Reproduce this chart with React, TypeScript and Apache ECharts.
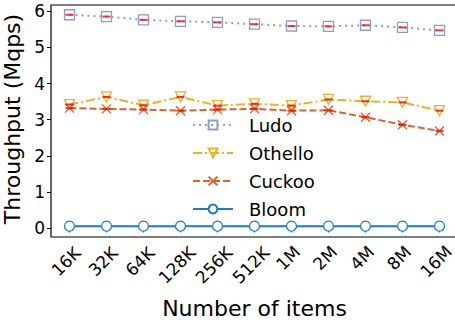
import React, { useEffect, useRef } from 'react';
import * as echarts from 'echarts';

const categories = ['16K', '32K', '64K', '128K', '256K', '512K', '1M', '2M', '4M', '8M', '16M'];
const ludo = [5.9, 5.85, 5.76, 5.72, 5.69, 5.64, 5.59, 5.58, 5.61, 5.55, 5.47];
const othello = [3.42, 3.63, 3.4, 3.63, 3.39, 3.44, 3.39, 3.56, 3.51, 3.48, 3.25];
const cuckoo = [3.32, 3.3, 3.28, 3.25, 3.28, 3.3, 3.25, 3.26, 3.07, 2.86, 2.69];
const bloom = [0.06, 0.06, 0.06, 0.06, 0.06, 0.06, 0.06, 0.06, 0.06, 0.06, 0.06];
const yTicks = [0, 1, 2, 3, 4, 5, 6];

const Y_MIN = -0.24;
const Y_MAX = 6.17;
const GRID_LEFT = 51;
const GRID_TOP = 5;
const GRID_W = 407;
const GRID_H = 232;
const LABEL_SHIFT = 3.5;

const FONT = 'DejaVu Sans';
const C_LUDO = '#8c9ccf';
const C_OTH = '#f0b020';
const C_CUC = '#e0602a';
const C_BLOOM = '#1a7ccc';
const X_SYMBOL = 'path://M0,0L10,10M10,0L0,10';

// label groups by string length, each drawn with its own margin so the rotated
// labels are centred under their ticks with aligned tops
const LABEL_GROUPS = [
  { len: 2, margin: 21 },
  { len: 3, margin: 24.5 },
  { len: 4, margin: 28 },
];

export default function App() {
  const ref = useRef<HTMLDivElement>(null);
  useEffect(() => {
    document.body.style.margin = '0';
    const chart = echarts.init(ref.current!, null, { renderer: 'svg' });
    const cap = (name: string, data: number[]) => ({
      name: name + '_err',
      type: 'scatter',
      data,
      symbol: 'rect',
      symbolSize: [8, 2],
      itemStyle: { color: '#ff0000' },
      z: 5,
      silent: true,
    });
    const baseGrid = {
      left: GRID_LEFT, top: GRID_TOP, width: GRID_W, height: GRID_H, show: false,
      containLabel: false, outerBoundsMode: 'none',
    };
    const labelGrids = LABEL_GROUPS.map(() => ({ ...baseGrid, left: GRID_LEFT - LABEL_SHIFT }));
    const labelXAxes = LABEL_GROUPS.map((g, i) => ({
      type: 'category',
      gridIndex: 1 + i,
      data: categories,
      boundaryGap: true,
      axisLine: { show: false },
      axisTick: { show: false },
      splitLine: { show: false },
      axisLabel: {
        rotate: 45,
        align: 'center',
        verticalAlign: 'middle',
        fontSize: 17,
        fontFamily: FONT,
        color: '#000',
        margin: g.margin,
        interval: 0,
        formatter: (v: string) => (v.length === g.len ? v : ''),
      },
    }));
    const labelYAxes = LABEL_GROUPS.map((g, i) => ({
      type: 'value', gridIndex: 1 + i, min: Y_MIN, max: Y_MAX, show: false,
    }));
    chart.setOption({
      animation: false,
      grid: [
        { ...baseGrid, show: true, borderColor: '#000', borderWidth: 1.2, backgroundColor: 'transparent' },
        ...labelGrids,
      ],
      xAxis: [
        {
          type: 'category',
          gridIndex: 0,
          data: categories,
          boundaryGap: true,
          axisLine: { show: false },
          axisTick: { show: true, alignWithLabel: true, length: 4, lineStyle: { color: '#000' } },
          axisLabel: { show: false },
          name: 'Number of items',
          nameLocation: 'middle',
          nameGap: 60,
          nameTextStyle: { fontSize: 22, fontFamily: FONT, color: '#000' },
          splitLine: { show: false },
        },
        ...labelXAxes,
      ],
      yAxis: [
        {
          type: 'value',
          gridIndex: 0,
          min: Y_MIN,
          max: Y_MAX,
          axisLine: { show: false },
          axisTick: { show: true, length: 4, lineStyle: { color: '#000' }, customValues: yTicks },
          axisLabel: { fontSize: 17, fontFamily: FONT, color: '#000', margin: 6, customValues: yTicks },
          splitLine: { show: false },
          name: 'Throughput (Mqps)',
          nameLocation: 'middle',
          nameGap: 24,
          nameTextStyle: { fontSize: 22, fontFamily: FONT, color: '#000', padding: [0, 0, 0, 4] },
        },
        ...labelYAxes,
      ],
      legend: {
        orient: 'vertical',
        left: 187,
        top: 111,
        itemWidth: 40,
        itemHeight: 11,
        itemGap: 10,
        data: ['Ludo', 'Othello', 'Cuckoo', 'Bloom'],
        textStyle: { fontSize: 18, fontFamily: FONT, color: '#000', padding: [0, 0, 0, 11] },
      },
      series: [
        {
          name: 'Ludo', type: 'line', data: ludo,
          symbol: 'rect', symbolSize: 10,
          lineStyle: { color: C_LUDO, width: 2, type: [2, 4] },
          itemStyle: { color: 'rgba(255,255,255,0)', borderColor: C_LUDO, borderWidth: 1.3 },
          z: 3,
        },
        {
          name: 'Othello', type: 'line', data: othello,
          symbol: 'triangle', symbolRotate: 180, symbolSize: 10,
          lineStyle: { color: C_OTH, width: 2, type: [9, 3, 2, 3] },
          itemStyle: { color: 'rgba(255,255,255,0)', borderColor: C_OTH, borderWidth: 1.3 },
          z: 3,
        },
        {
          name: 'Cuckoo', type: 'line', data: cuckoo,
          symbol: X_SYMBOL, symbolSize: 9,
          lineStyle: { color: C_CUC, width: 2, type: [7, 3] },
          itemStyle: { color: 'rgba(255,255,255,0)', borderColor: C_CUC, borderWidth: 1.3 },
          z: 3,
        },
        {
          name: 'Bloom', type: 'line', data: bloom,
          symbol: 'circle', symbolSize: 10,
          lineStyle: { color: C_BLOOM, width: 2 },
          itemStyle: { color: '#fff', borderColor: C_BLOOM, borderWidth: 1.3 },
          z: 3,
        },
        cap('Ludo', ludo),
        cap('Othello', othello),
        cap('Cuckoo', cuckoo),
      ],
    });
    return () => chart.dispose();
  }, []);
  return <div ref={ref} style={{ width: 455, height: 320 }} />;
}
